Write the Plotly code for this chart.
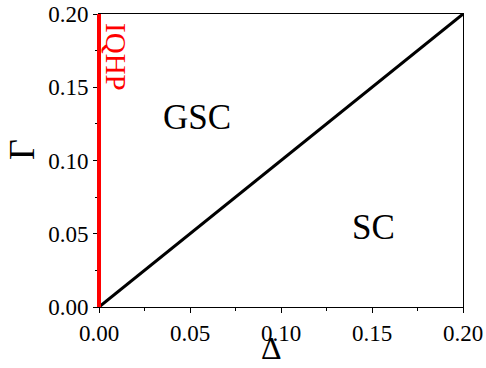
import plotly.graph_objects as go

# Data
boundary_delta = [0.0, 0.2]
boundary_gamma = [0.0, 0.2]
iqhp_delta = [0.0, 0.0]
iqhp_gamma = [0.0, 0.2]
region_labels = ["GSC", "SC"]
region_x = [0.054, 0.151]
region_y = [0.1295, 0.054]
iqhp_label = "IQHP"
iqhp_pos = (0.0096, 0.1703)
tick_vals = [0.0, 0.05, 0.10, 0.15, 0.20]
tick_text = ["0.00", "0.05", "0.10", "0.15", "0.20"]

FONT = "Liberation Serif"

fig = go.Figure()
fig.add_trace(go.Scatter(x=boundary_delta, y=boundary_gamma, mode="lines",
                         line=dict(color="black", width=3), showlegend=False))

# IQHP boundary line at Δ = 0 (drawn unclipped so it straddles the axis)
fig.add_shape(type="line", xref="paper", yref="y",
              x0=iqhp_delta[0], x1=iqhp_delta[1], y0=iqhp_gamma[0], y1=iqhp_gamma[1],
              line=dict(color="red", width=4), layer="above")

for t, x, y in zip(region_labels, region_x, region_y):
    fig.add_annotation(x=x, y=y, text=t, showarrow=False, xanchor="center", yanchor="middle",
                       font=dict(family=FONT, size=35, color="black"))
fig.add_annotation(x=iqhp_pos[0], y=iqhp_pos[1], text=iqhp_label, showarrow=False,
                   xanchor="center", yanchor="middle",
                   textangle=90, font=dict(family=FONT, size=29, color="red"))

# Axis titles
fig.add_annotation(xref="paper", yref="paper", x=0.475, y=-0.208, text="Δ",
                   xanchor="center", yanchor="bottom",
                   showarrow=False, font=dict(family=FONT, size=32, color="black"))
fig.add_annotation(xref="paper", yref="paper", x=-0.2115, y=0.536, text="Γ",
                   xanchor="center", yanchor="middle",
                   textangle=-90, showarrow=False, font=dict(family=FONT, size=36, color="black"))

axis_common = dict(range=[0, 0.2], tickvals=tick_vals, ticktext=tick_text,
                   showgrid=False, zeroline=False, showline=True, mirror=True,
                   linecolor="black", linewidth=1, ticks="outside", ticklen=5,
                   tickcolor="black", tickwidth=1, automargin=False,
                   tickfont=dict(family=FONT, size=23, color="black"),
                   minor=dict(ticks="outside", ticklen=3, tickcolor="black",
                              tickwidth=1, dtick=0.025, showgrid=False))

fig.update_xaxes(**axis_common)
fig.update_yaxes(**axis_common)

fig.update_layout(width=486, height=368, margin=dict(l=99, r=23, t=14, b=61, autoexpand=False),
                  plot_bgcolor="white", paper_bgcolor="white", template="none")

fig.write_html("out.html", config={"displayModeBar": False},
               post_script="document.body.style.margin='0';")
